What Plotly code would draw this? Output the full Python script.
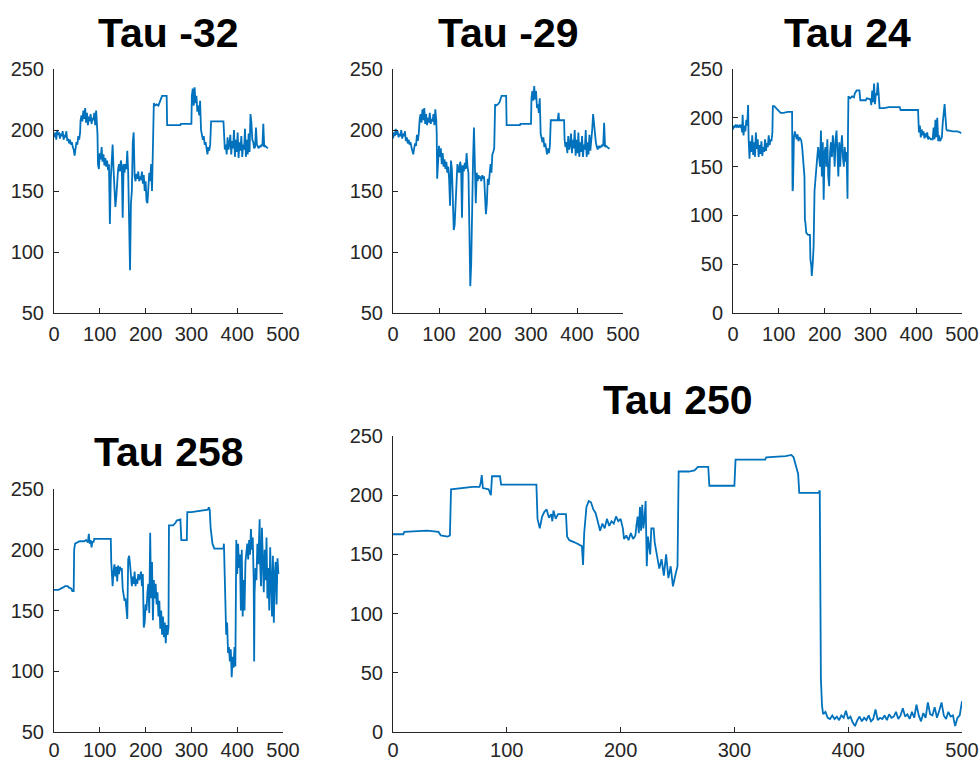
import plotly.graph_objects as go

# ---- series values (x index, signal value) ----
tau_m32_x = [0, 3, 5, 7, 9, 11, 13, 15, 17, 19, 21, 23, 25, 27, 29, 31, 33, 35, 37, 39, 41, 43, 45, 47, 49, 51, 53, 55, 57, 58,
             60, 62, 64, 66, 68, 70, 72, 74, 76, 78, 80, 82, 84, 86, 88, 90, 92, 93, 95, 96, 98, 100, 102, 104, 106, 108, 110,
             112, 114, 116, 118, 120, 122, 124, 126, 128, 130, 132, 134, 136, 138, 140, 142, 144, 146, 148, 150, 152, 154, 156,
             158, 160, 162, 164, 166, 168, 170, 172, 174, 176, 178, 180, 182, 184, 186, 188, 190, 192, 194, 196, 198, 200, 202,
             204, 206, 208, 210, 212, 214, 216, 218, 220, 224, 228, 232, 236, 240, 246, 247, 260, 276, 277, 300, 301, 303, 305,
             307, 309, 311, 313, 315, 317, 319, 321, 323, 325, 327, 329, 331, 333, 335, 337, 339, 341, 343, 370, 371, 373, 375,
             377, 379, 381, 383, 385, 387, 389, 391, 393, 395, 397, 399, 401, 403, 405, 407, 409, 411, 413, 415, 417, 419, 421,
             423, 425, 427, 429, 431, 433, 435, 437, 439, 441, 443, 445, 447, 449, 451, 453, 455, 457, 459, 461, 463, 465, 467]
tau_m32_y = [194, 198, 192, 200, 196, 198, 193, 197, 195, 199, 192, 196, 194, 199, 191, 193, 189, 192, 188, 190, 186, 184, 179,
             186, 190, 188, 195, 192, 198, 208, 212, 207, 216, 209, 218, 206, 214, 204, 211, 207, 213, 205, 210, 208, 214, 204,
             216, 210, 196, 172, 168, 181, 176, 186, 174, 180, 171, 177, 170, 175, 167, 172, 123, 160, 183, 188, 168, 150, 137,
             145, 158, 168, 172, 166, 175, 170, 128, 172, 165, 172, 168, 183, 165, 110, 85, 140, 150, 190, 198, 162, 158, 164,
             160, 166, 158, 162, 159, 166, 156, 163, 150, 158, 142, 140, 156, 165, 158, 172, 150, 176, 222, 220, 221, 220, 224,
             228, 228, 228, 204, 204, 204, 205, 205, 228, 234, 220, 235, 222, 228, 215, 220, 212, 224, 200, 196, 192, 195, 188,
             190, 184, 180, 186, 183, 188, 207, 207, 190, 184, 188, 180, 194, 184, 188, 196, 180, 191, 185, 200, 178, 192, 182,
             198, 177, 190, 183, 195, 178, 188, 184, 201, 178, 192, 180, 197, 182, 213, 206, 192, 190, 185, 186, 202, 188, 186,
             185, 187, 186, 188, 187, 205, 186, 187, 186, 185, 185]

tau_m29_x = [0, 2, 4, 6, 8, 10, 12, 14, 16, 18, 20, 22, 24, 26, 28, 30, 32, 34, 36, 38, 40, 42, 44, 46, 48, 50, 52, 54, 56, 58,
             60, 62, 64, 66, 68, 70, 72, 74, 76, 78, 80, 82, 84, 86, 88, 90, 92, 94, 95, 96, 98, 100, 102, 104, 106, 108, 110,
             112, 114, 116, 118, 120, 122, 124, 126, 128, 130, 132, 134, 136, 138, 140, 142, 144, 146, 148, 150, 152, 154, 156,
             158, 160, 162, 164, 166, 167, 168, 170, 172, 174, 176, 178, 180, 182, 184, 186, 188, 190, 192, 194, 196, 198, 200,
             202, 204, 206, 208, 210, 212, 214, 216, 218, 220, 222, 224, 228, 232, 236, 240, 246, 247, 276, 277, 300, 301, 303,
             305, 307, 309, 311, 313, 315, 317, 319, 321, 323, 325, 327, 329, 331, 333, 335, 337, 339, 341, 343, 358, 360, 361,
             372, 373, 375, 377, 379, 381, 383, 385, 387, 389, 391, 393, 395, 397, 399, 401, 403, 405, 407, 409, 411, 413, 415,
             417, 419, 421, 423, 425, 427, 429, 431, 433, 435, 437, 439, 441, 443, 445, 447, 449, 451, 453, 455, 457, 459, 461,
             463, 465, 467, 469, 471]
tau_m29_y = [193, 198, 195, 201, 196, 199, 194, 197, 195, 200, 193, 197, 195, 199, 191, 194, 189, 192, 188, 190, 186, 183, 180,
             185, 189, 187, 196, 191, 197, 209, 213, 206, 217, 208, 218, 205, 213, 204, 210, 206, 214, 205, 209, 207, 213, 204,
             217, 208, 198, 160, 175, 187, 178, 185, 172, 181, 170, 176, 168, 174, 165, 170, 160, 138, 175, 168, 145, 118, 122,
             140, 160, 172, 168, 165, 174, 170, 128, 171, 166, 173, 168, 181, 170, 165, 120, 95, 72, 90, 145, 175, 202, 162, 140,
             165, 158, 163, 160, 162, 158, 163, 160, 162, 150, 131, 140, 160, 155, 168, 172, 165, 180, 182, 185, 221, 220, 221,
             223, 228, 228, 228, 204, 204, 205, 205, 226, 232, 224, 236, 225, 232, 218, 221, 214, 226, 197, 194, 190, 194, 186,
             189, 183, 180, 185, 181, 187, 208, 208, 214, 208, 208, 192, 186, 190, 181, 195, 184, 188, 197, 181, 192, 185, 200,
             179, 192, 181, 198, 178, 190, 182, 195, 178, 188, 184, 200, 178, 190, 180, 196, 183, 190, 200, 213, 205, 194, 190,
             186, 184, 187, 185, 187, 186, 188, 187, 206, 186, 187, 186, 186, 185, 185]

tau_24_x = [0, 2, 4, 6, 8, 10, 12, 14, 16, 18, 20, 21, 23, 25, 27, 29, 31, 33, 34, 36, 38, 40, 42, 44, 46, 48, 50, 52, 54, 56,
            58, 60, 62, 64, 66, 68, 70, 72, 74, 76, 78, 80, 82, 84, 86, 87, 90, 94, 98, 100, 104, 110, 120, 129, 130, 131, 133,
            135, 137, 139, 141, 143, 145, 147, 149, 151, 153, 155, 156, 157, 158, 160, 164, 168, 169, 171, 172, 174, 176, 178,
            180, 182, 184, 186, 188, 190, 192, 194, 196, 198, 200, 202, 204, 206, 208, 210, 212, 214, 216, 218, 220, 222, 224,
            226, 228, 230, 232, 234, 236, 238, 240, 242, 244, 246, 248, 250, 251, 252, 256, 260, 264, 266, 270, 276, 278, 290,
            292, 300, 302, 304, 306, 308, 310, 312, 314, 316, 318, 320, 330, 340, 364, 366, 404, 406, 408, 410, 412, 414, 416,
            418, 420, 422, 424, 426, 428, 432, 436, 438, 440, 442, 444, 446, 448, 450, 452, 454, 456, 458, 460, 462, 464, 466,
            468, 470, 480, 490, 496, 498]
tau_24_y = [188, 192, 190, 193, 191, 192, 190, 192, 191, 193, 185, 203, 182, 192, 186, 198, 192, 213, 180, 158, 176, 165, 182,
            162, 175, 160, 185, 168, 178, 160, 172, 163, 176, 161, 170, 165, 178, 166, 174, 170, 182, 172, 178, 176, 185, 212,
            212, 210, 208, 206, 205, 205, 206, 206, 125, 128, 180, 186, 182, 178, 183, 176, 180, 178, 177, 170, 160, 150, 140,
            95, 93, 82, 80, 80, 55, 48, 38, 50, 68, 125, 140, 150, 160, 170, 160, 150, 187, 140, 175, 116, 165, 170, 150, 178,
            140, 130, 165, 175, 160, 182, 170, 150, 178, 187, 165, 140, 175, 150, 170, 182, 160, 150, 170, 155, 165, 117, 180,
            222, 220, 222, 221, 225, 228, 228, 218, 218, 220, 219, 213, 228, 216, 235, 214, 225, 223, 236, 225, 210, 210, 211,
            211, 208, 208, 185, 192, 180, 188, 182, 186, 179, 184, 180, 185, 178, 180, 178, 178, 190, 178, 198, 180, 200, 176,
            182, 176, 178, 180, 195, 206, 214, 200, 188, 187, 187, 186, 186, 185, 184]

tau_258_x = [0, 10, 20, 24, 30, 32, 38, 40, 43, 44, 46, 50, 56, 66, 70, 74, 76, 78, 80, 82, 84, 86, 88, 100, 124, 125, 127, 128,
             130, 132, 134, 136, 138, 140, 142, 144, 146, 148, 150, 152, 154, 156, 158, 160, 162, 164, 166, 168, 170, 172, 174,
             176, 178, 180, 182, 184, 186, 188, 190, 192, 194, 196, 198, 200, 202, 204, 206, 208, 210, 212, 214, 216, 218, 220,
             222, 224, 226, 228, 230, 232, 234, 236, 238, 240, 242, 244, 246, 248, 250, 251, 260, 265, 268, 276, 278, 290, 291,
             300, 320, 330, 336, 338, 340, 342, 344, 346, 350, 370, 371, 372, 374, 376, 378, 380, 382, 384, 386, 388, 390, 392,
             394, 396, 398, 400, 402, 404, 406, 408, 410, 412, 414, 416, 418, 420, 422, 424, 426, 428, 430, 432, 434, 436, 437,
             438, 440, 442, 444, 446, 448, 449, 450, 452, 454, 456, 458, 460, 462, 464, 466, 468, 470, 472, 474, 476, 478, 480,
             482, 484, 486, 488, 490]
tau_258_y = [167, 167, 169, 170, 170, 169, 168, 166, 166, 200, 205, 206, 207, 207, 208, 206, 213, 205, 208, 202, 207, 206, 209,
             209, 209, 190, 176, 170, 182, 188, 178, 186, 174, 187, 180, 186, 183, 185, 168, 163, 158, 160, 152, 143, 192, 195,
             188, 176, 170, 178, 172, 182, 170, 176, 172, 180, 175, 178, 182, 170, 180, 136, 140, 155, 150, 165, 172, 148, 214,
             160, 190, 142, 175, 160, 172, 155, 165, 145, 158, 135, 150, 130, 145, 128, 140, 123, 138, 130, 136, 220, 220, 222,
             224, 225, 208, 208, 231, 231, 232, 233, 233, 235, 233, 218, 212, 205, 201, 201, 205, 187, 175, 130, 140, 115, 120,
             108, 118, 95, 112, 103, 120, 104, 208, 180, 205, 185, 196, 150, 200, 145, 175, 150, 190, 198, 205, 192, 208, 196,
             217, 200, 210, 175, 108, 165, 185, 175, 205, 188, 215, 225, 190, 170, 218, 190, 165, 200, 175, 210, 160, 185, 150,
             202, 170, 145, 195, 140, 180, 190, 155, 193, 180]

tau_250_x = [0, 9, 10, 30, 40, 42, 48, 50, 51, 60, 70, 76, 77, 78, 79, 84, 86, 87, 94, 95, 126, 127, 129, 131, 133, 135, 137,
             139, 140, 141, 143, 145, 152, 153, 155, 160, 165, 166, 167, 168, 170, 172, 174, 176, 178, 180, 182, 184, 186, 188,
             190, 192, 194, 196, 198, 200, 202, 203, 205, 207, 209, 211, 213, 214, 215, 216, 217, 218, 219, 220, 221, 222, 223,
             224, 226, 227, 229, 230, 232, 234, 236, 238, 240, 242, 244, 246, 248, 250, 251, 260, 265, 268, 277, 278, 300, 301,
             327, 328, 345, 350, 352, 354, 356, 357, 370, 374, 375, 376, 377, 378, 380, 382, 384, 386, 388, 390, 392, 394, 396,
             398, 400, 402, 404, 406, 408, 410, 412, 414, 416, 418, 420, 422, 424, 426, 428, 430, 432, 434, 436, 438, 440, 442,
             444, 446, 448, 450, 452, 454, 456, 458, 460, 462, 464, 466, 468, 470, 472, 474, 476, 478, 480, 482, 484, 486, 488,
             490, 492, 494, 496, 498, 500]
tau_250_y = [167, 167, 169, 170, 169, 166, 165, 166, 205, 206, 207, 207, 210, 217, 206, 205, 200, 216, 216, 209, 209, 180, 172,
             182, 186, 188, 181, 184, 178, 187, 180, 184, 184, 165, 162, 160, 158, 157, 141, 168, 190, 195, 194, 188, 185, 178,
             170, 176, 172, 180, 174, 178, 176, 182, 178, 180, 172, 163, 166, 162, 168, 163, 166, 175, 182, 168, 190, 170, 192,
             172, 180, 195, 140, 165, 150, 172, 172, 160, 150, 138, 146, 132, 150, 130, 140, 123, 132, 140, 220, 220, 221, 224,
             224, 208, 208, 230, 230, 232, 233, 234, 232, 225, 218, 202, 202, 202, 204, 45, 22, 15, 17, 12, 11, 14, 11, 13, 10,
             14, 12, 18, 11, 13, 8, 5, 10, 13, 9, 12, 10, 14, 9, 11, 19, 10, 12, 11, 14, 10, 15, 12, 13, 17, 11, 14, 20, 13, 15,
             11, 17, 12, 23, 14, 9, 16, 12, 25, 15, 14, 21, 12, 18, 25, 14, 11, 17, 13, 14, 5, 12, 14, 26]

titles = ["Tau -32", "Tau -29", "Tau 24", "Tau 258", "Tau 250"]
x_ticks = [0, 100, 200, 300, 400, 500]
y_ticks_50 = [50, 100, 150, 200, 250]
y_ticks_0 = [0, 50, 100, 150, 200, 250]

# ---- layout geometry (pixels in a 980 x 761 canvas) ----
W, H = 980, 761
LINE_COLOR = "#0072BD"
AXIS_COLOR = "#262626"
FONT = "Liberation Sans"

panels = [
    # (x, y, title, x0, x1, ytop, ybottom, yrange, yticks, title_y, x-label standoff)
    (tau_m32_x, tau_m32_y, titles[0], 54, 283, 69, 313, [50, 250], y_ticks_50, 33, 3),
    (tau_m29_x, tau_m29_y, titles[1], 393, 623, 69, 313, [50, 250], y_ticks_50, 33, 3),
    (tau_24_x, tau_24_y, titles[2], 733, 962, 69, 313, [0, 250], y_ticks_0, 33, 3),
    (tau_258_x, tau_258_y, titles[3], 54, 283, 489, 732, [50, 250], y_ticks_50, 452, 0),
    (tau_250_x, tau_250_y, titles[4], 393, 962, 436, 732, [0, 250], y_ticks_0, 400, 0),
]

fig = go.Figure()
layout = dict(
    width=W, height=H,
    margin=dict(l=0, r=0, t=0, b=0),
    paper_bgcolor="white", plot_bgcolor="white",
    showlegend=False,
    annotations=[],
)

axis_common = dict(
    showline=True, linecolor=AXIS_COLOR, linewidth=1,
    ticks="inside", ticklen=5, tickcolor=AXIS_COLOR, tickwidth=1,
    showgrid=False, zeroline=False, mirror=False,
    automargin=False,
    tickfont=dict(family=FONT, size=20, color=AXIS_COLOR),
)

for i, (xs, ys, title, x0, x1, yt, yb, yr, yticks, ty, xstand) in enumerate(panels, start=1):
    suffix = "" if i == 1 else str(i)
    fig.add_trace(go.Scatter(
        x=xs, y=ys, mode="lines",
        line=dict(color=LINE_COLOR, width=1.8),
        xaxis="x" + suffix, yaxis="y" + suffix,
        hoverinfo="x+y",
    ))
    layout["xaxis" + suffix] = dict(
        axis_common,
        domain=[x0 / W, x1 / W], range=[0, 500],
        tickvals=x_ticks, anchor="y" + suffix,
        ticklabelstandoff=xstand,
    )
    layout["yaxis" + suffix] = dict(
        axis_common,
        domain=[1 - yb / H, 1 - yt / H], range=yr,
        tickvals=yticks, anchor="x" + suffix,
        ticklabelstandoff=5,
    )
    layout["annotations"].append(dict(
        text="<b>" + title + "</b>",
        x=(x0 + x1) / 2 / W, y=1 - ty / H,
        xref="paper", yref="paper",
        xanchor="center", yanchor="middle",
        showarrow=False,
        font=dict(family=FONT, size=41, color="black"),
    ))

fig.update_layout(**layout)
fig.write_html("out.html", post_script="document.body.style.margin='0';")
